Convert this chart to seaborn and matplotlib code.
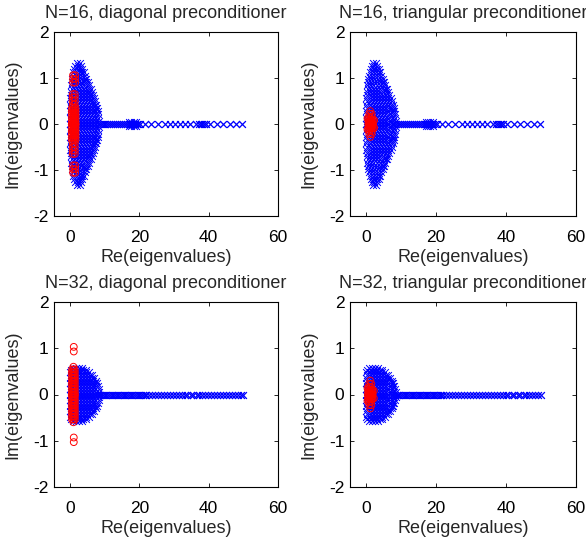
import matplotlib
matplotlib.use("Agg")
import matplotlib.pyplot as plt
import seaborn as sns
import numpy as np

# ---------------- data (upper half-plane; eigenvalues come in conjugate pairs) -------------
# N = 16, unpreconditioned eigenvalues (blue x): rows of the bulk cloud
blue16_row_im = [0.00, 0.07, 0.14, 0.21, 0.28, 0.35, 0.42, 0.49, 0.56, 0.63,
                 0.70, 0.77, 0.84, 0.91, 0.98, 1.05, 1.12, 1.19, 1.26, 1.33]
blue16_row_re = [
    [0.1, 1.0, 1.9, 2.8, 3.7, 4.6, 5.5, 6.4, 7.3, 8.1, 8.6],
    [0.4, 1.3, 2.2, 3.1, 4.0, 4.9, 5.8, 6.7, 7.6, 8.5],
    [0.1, 1.0, 1.9, 2.8, 3.7, 4.6, 5.5, 6.4, 7.3, 8.2],
    [0.4, 1.3, 2.2, 3.1, 4.0, 4.9, 5.8, 6.7, 7.6, 8.2],
    [0.1, 1.0, 1.9, 2.8, 3.7, 4.6, 5.5, 6.4, 7.3, 8.0],
    [0.4, 1.3, 2.2, 3.1, 4.0, 4.9, 5.8, 6.7, 7.5, 7.9],
    [0.1, 1.0, 1.9, 2.8, 3.7, 4.6, 5.5, 6.4, 7.2, 7.6],
    [0.4, 1.3, 2.2, 3.1, 4.0, 4.9, 5.8, 6.6, 7.3],
    [0.1, 1.0, 1.9, 2.8, 3.7, 4.6, 5.5, 6.3, 7.0],
    [0.4, 1.3, 2.2, 3.1, 4.0, 4.9, 5.8, 6.6],
    [0.2, 1.1, 2.0, 2.9, 3.8, 4.7, 5.6, 6.3],
    [0.5, 1.4, 2.3, 3.2, 4.1, 5.0, 5.6, 6.0],
    [0.3, 1.2, 2.1, 3.0, 3.9, 4.8, 5.5],
    [0.5, 1.4, 2.3, 3.2, 4.1, 4.7, 5.1],
    [0.6, 1.5, 2.4, 3.3, 4.2, 4.7],
    [0.8, 1.7, 2.6, 3.5, 4.3],
    [1.0, 1.9, 2.8, 3.6, 4.0],
    [1.3, 2.2, 3.0, 3.6],
    [1.6, 2.4, 3.2],
    [2.0, 2.8],
]
# N = 16, real outliers (tail)
tail16_re = [9.2, 9.7, 10.2, 10.8, 11.3, 11.9, 12.5, 13.0, 13.6, 14.2, 14.8, 15.4,
             16.0, 16.5, 16.9, 17.3, 17.6, 17.9, 18.2, 18.5, 18.8, 19.2, 19.7, 20.2,
             21.6, 23.5, 25.5, 27.4, 28.8, 30.3, 31.7, 33.1, 34.6, 36.3, 37.2, 37.7,
             38.2, 38.7, 39.2, 40.3, 42.3, 44.1, 46.1, 48.0, 49.6,
             17.0, 17.7, 18.4, 19.0]
tail16_im = [0.0] * 45 + [0.05, 0.05, 0.05, 0.05]

# N = 32, unpreconditioned eigenvalues (blue x)
blue32_row_im = [0.00, 0.06, 0.12, 0.18, 0.24, 0.30, 0.36, 0.42, 0.48, 0.54, 0.58]
blue32_row_re = [
    [0.1, 1.0, 1.9, 2.8, 3.7, 4.6, 5.5, 6.4, 7.3, 8.2, 8.8],
    [0.4, 1.3, 2.2, 3.1, 4.0, 4.9, 5.8, 6.7, 7.6, 8.5],
    [0.1, 1.0, 1.9, 2.8, 3.7, 4.6, 5.5, 6.4, 7.3, 8.3],
    [0.4, 1.3, 2.2, 3.1, 4.0, 4.9, 5.8, 6.7, 7.6, 8.1],
    [0.1, 1.0, 1.9, 2.8, 3.7, 4.6, 5.5, 6.4, 7.3, 7.8],
    [0.4, 1.3, 2.2, 3.1, 4.0, 4.9, 5.8, 6.7, 7.4],
    [0.1, 1.0, 1.9, 2.8, 3.7, 4.6, 5.5, 6.4, 6.9],
    [0.4, 1.3, 2.2, 3.1, 4.0, 4.9, 5.8, 6.3],
    [0.1, 1.0, 1.9, 2.8, 3.7, 4.6, 5.4],
    [0.4, 1.3, 2.2, 3.1, 3.9, 4.5],
    [0.8, 1.7, 2.6, 3.4],
]
tail32_re = [9.0, 9.5, 10.0, 10.5, 11.0, 11.5, 12.0, 12.5, 13.0, 13.5, 14.0, 14.5,
             15.0, 15.5, 16.0, 16.5, 17.0, 17.5, 18.0, 18.5, 19.0, 19.5, 20.0, 20.5,
             21.0, 21.5, 22.0, 22.8, 23.7, 24.6, 25.4, 26.3, 27.1, 28.0, 28.8, 29.7,
             30.5, 31.4, 32.2, 33.1, 33.9, 34.8, 35.6, 36.5, 37.3, 38.2, 39.0, 39.9,
             40.7, 41.6, 42.4, 43.3, 44.1, 45.0, 45.8, 46.7, 47.5, 48.4, 49.2, 49.9]

# preconditioned eigenvalues (red o), upper half-plane
red16d_re = [0.6, 1.1, 1.6, 0.6, 1.1, 1.6, 0.6, 1.1, 1.6, 0.6, 1.1, 1.6,
             0.6, 1.1, 1.6, 0.6, 1.1, 1.6, 0.6, 1.1, 1.6, 0.6, 1.1, 1.6,
             0.8, 1.4, 0.8, 1.4, 0.8, 1.4, 0.8, 1.4,
             0.9, 1.5, 0.9, 1.5, 0.9, 1.5]
red16d_im = [0.00, 0.00, 0.00, 0.05, 0.05, 0.05, 0.10, 0.10, 0.10, 0.15, 0.15, 0.15,
             0.20, 0.20, 0.20, 0.25, 0.25, 0.25, 0.30, 0.30, 0.30, 0.35, 0.35, 0.35,
             0.42, 0.42, 0.50, 0.50, 0.58, 0.58, 0.65, 0.65,
             0.90, 0.90, 0.98, 0.98, 1.06, 1.06]

red16t_re = [0.7, 1.1, 1.5, 1.9, 0.7, 1.1, 1.5, 1.9, 0.7, 1.1, 1.5, 1.9,
             0.9, 1.6, 0.9, 1.6, 1.2, 2.3, 0.4]
red16t_im = [0.00, 0.00, 0.00, 0.00, 0.05, 0.05, 0.05, 0.05, 0.10, 0.10, 0.10, 0.10,
             0.16, 0.16, 0.22, 0.22, 0.28, 0.08, 0.12]

red32d_re = [0.6, 1.0, 1.4, 0.6, 1.0, 1.4, 0.6, 1.0, 1.4, 0.6, 1.0, 1.4,
             0.6, 1.0, 1.4, 0.6, 1.0, 1.4, 0.6, 1.0, 1.4, 0.6, 1.0, 1.4,
             0.6, 1.0, 1.4, 0.6, 1.0, 1.4, 1.0, 1.1, 1.1]
red32d_im = [0.00, 0.00, 0.00, 0.06, 0.06, 0.06, 0.12, 0.12, 0.12, 0.18, 0.18, 0.18,
             0.24, 0.24, 0.24, 0.30, 0.30, 0.30, 0.36, 0.36, 0.36, 0.42, 0.42, 0.42,
             0.48, 0.48, 0.48, 0.54, 0.54, 0.54, 0.60, 0.93, 1.03]

red32t_re = [0.6, 1.0, 1.4, 1.8, 0.6, 1.0, 1.4, 1.8, 0.6, 1.0, 1.4, 1.8,
             0.8, 1.4, 0.9, 1.5, 1.2, 2.2, 0.4]
red32t_im = [0.00, 0.00, 0.00, 0.00, 0.05, 0.05, 0.05, 0.05, 0.10, 0.10, 0.10, 0.10,
             0.16, 0.16, 0.23, 0.23, 0.30, 0.08, 0.14]

titles = ["N=16, diagonal preconditioner", "N=16, triangular preconditioner",
          "N=32, diagonal preconditioner", "N=32, triangular preconditioner"]
x_ticks = [0, 20, 40, 60]
y_ticks = [-2, -1, 0, 1, 2]

# ---------------- style ----------------
sns.set_theme(style="ticks")
plt.rcParams["font.family"] = ["Liberation Sans", "DejaVu Sans"]
plt.rcParams.update({
    "xtick.direction": "in", "ytick.direction": "in",
    "xtick.top": True, "ytick.right": True,
    "xtick.major.size": 3, "ytick.major.size": 3,
    "xtick.major.width": 0.6, "ytick.major.width": 0.6,
    "axes.linewidth": 0.8, "axes.edgecolor": "black",
    "xtick.color": "black", "ytick.color": "black",
    "xtick.labelsize": 12.5, "ytick.labelsize": 12.5,
    "axes.labelsize": 13, "axes.titlesize": 13,
})


def flatten_rows(row_im, row_re):
    xs, ys = [], []
    for im, res in zip(row_im, row_re):
        xs += res
        ys += [im] * len(res)
    return xs, ys


def conj(re, im):
    re = np.asarray(re, float)
    im = np.asarray(im, float)
    return np.concatenate([re, re]), np.concatenate([im, -im])


b16x, b16y = flatten_rows(blue16_row_im, blue16_row_re)
b32x, b32y = flatten_rows(blue32_row_im, blue32_row_re)
blue16 = conj(b16x + tail16_re, b16y + tail16_im)
blue32 = conj(b32x + tail32_re, b32y + [0.0] * len(tail32_re))
reds = [conj(red16d_re, red16d_im), conj(red16t_re, red16t_im),
        conj(red32d_re, red32d_im), conj(red32t_re, red32t_im)]
blues = [blue16, blue16, blue32, blue32]

fig = plt.figure(figsize=(5.86, 5.46), dpi=100)
positions = [
    [54 / 586, 1 - 216 / 546, 224 / 586, 184 / 546],
    [350 / 586, 1 - 216 / 546, 226 / 586, 184 / 546],
    [54 / 586, 1 - 487 / 546, 224 / 586, 185 / 546],
    [350 / 586, 1 - 487 / 546, 226 / 586, 185 / 546],
]

for pos, title, (bx, by), (rx, ry) in zip(positions, titles, blues, reds):
    ax = fig.add_axes(pos)
    sns.scatterplot(x=bx, y=by, marker="x", color="#0000ff", s=24,
                    linewidth=0.7, ax=ax, zorder=2)
    sns.scatterplot(x=rx, y=ry, marker="o", color="red", facecolors="none",
                    edgecolor="red", s=24, linewidth=0.7, ax=ax, zorder=3)
    ax.set_xlim(-4.6, 60)
    ax.set_ylim(-2, 2)
    ax.set_xticks(x_ticks)
    ax.set_yticks(y_ticks)
    ax.set_xticklabels([str(v) for v in x_ticks])
    ax.set_yticklabels([str(v) for v in y_ticks])
    ax.tick_params(axis="x", pad=10)
    ax.tick_params(axis="y", pad=4)
    ax.set_xlabel("Re(eigenvalues)", labelpad=3)
    ax.set_ylabel("Im(eigenvalues)", labelpad=8)
    ax.set_title(title, pad=10)
    for s in ax.spines.values():
        s.set_visible(True)

fig.savefig("out.png", dpi=100)
